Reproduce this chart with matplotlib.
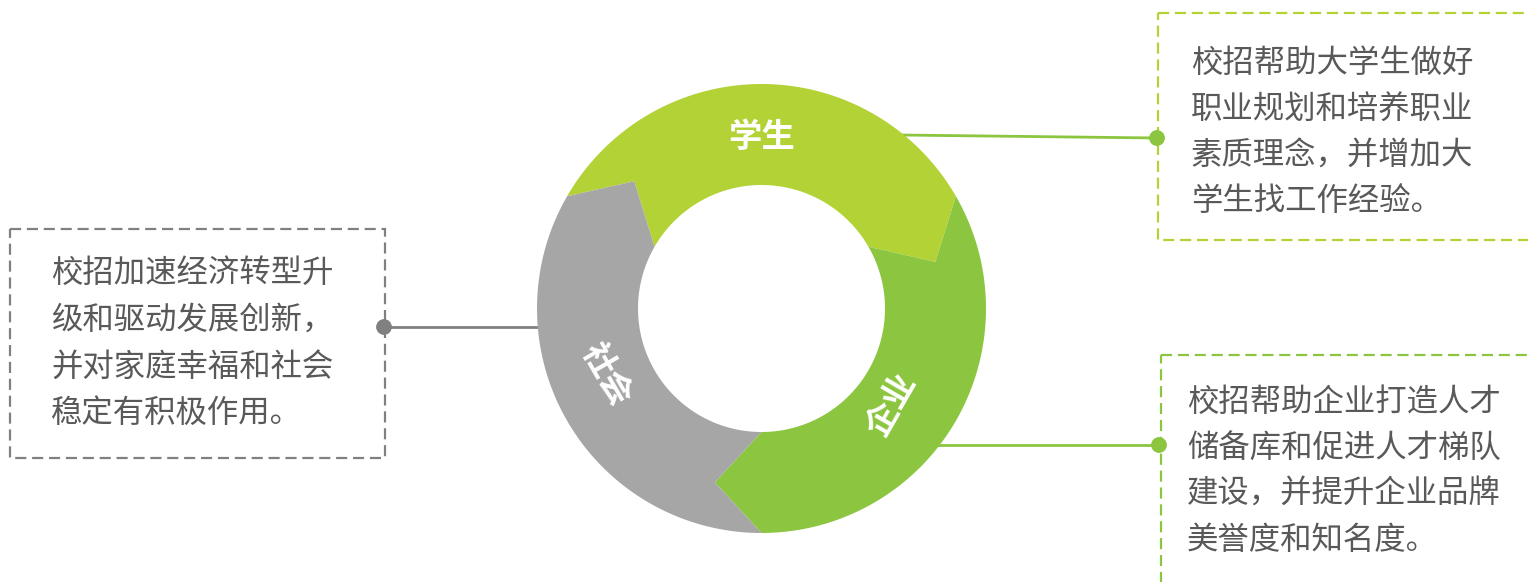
import numpy as np
import matplotlib
matplotlib.use("Agg")
import matplotlib.pyplot as plt
from matplotlib.patches import Polygon, Rectangle, Circle

plt.rcParams['font.family'] = ['Noto Sans CJK SC', 'DejaVu Sans']

# 环形三段：名称、起止角度（顺时针，数学角度）、颜色
segmentos = ["学生", "企业", "社会"]
angulo_inicio = [150, 30, -90]
angulo_fin = [30, -90, -210]
colores = ["#b2d235", "#8cc540", "#a6a6a6"]

# 标签位置（角度、半径）和旋转
etiqueta_angulo = [90, -36.5, 203]
etiqueta_radio = [171, 162, 169]
etiqueta_rot = [0, 60, -60]

# 说明文字
texto_estudiante = ["校招帮助大学生做好", "职业规划和培养职业", "素质理念，并增加大", "学生找工作经验。"]
texto_empresa = ["校招帮助企业打造人才", "储备库和促进人才梯队", "建设，并提升企业品牌", "美誉度和知名度。"]
texto_sociedad = ["校招加速经济转型升", "级和驱动发展创新，", "并对家庭幸福和社会", "稳定有积极作用。"]

CX, CY = 761.5, 308.5
R_EXT, R_INT, R_PUNTA = 224.5, 123.5, 180
PUNTA = 15
COLOR_TEXTO = "#595959"


def punto(ang, r):
    a = np.radians(ang)
    return CX + r * np.cos(a), CY - r * np.sin(a)


def forma_segmento(a0, a1):
    ext = [punto(a, R_EXT) for a in np.linspace(a0, a1, 80)]
    cabeza = [punto(a1 - PUNTA, R_PUNTA)]
    inte = [punto(a, R_INT) for a in np.linspace(a1, a0, 80)]
    cola = [punto(a0 - PUNTA, R_PUNTA)]
    return ext + cabeza + inte + cola


def caja(ax, x0, y0, x1, y1, color, lineas, tx, ty, paso):
    ax.add_patch(Rectangle((x0, y0), x1 - x0, y1 - y0, fill=False, edgecolor=color,
                           linewidth=1.6, linestyle=(0, (5, 2.6)), zorder=2))
    for i, linea in enumerate(lineas):
        ax.text(tx, ty + i * paso, linea, fontsize=22.6, color=COLOR_TEXTO,
                ha='left', va='center', zorder=3)


def conector(ax, x0, y0, x1, y1, color):
    ax.plot([x0, x1], [y0, y1], color=color, linewidth=2.0, zorder=0.5, solid_capstyle='butt')
    ax.add_patch(Circle((x1, y1), 7, color=color, zorder=4))


def main():
    fig = plt.figure(figsize=(15.28, 5.82), dpi=100)
    ax = fig.add_axes([0, 0, 1, 1])
    ax.set_xlim(0, 1528)
    ax.set_ylim(582, 0)
    ax.axis('off')

    for nombre, a0, a1, col, ea, er, rot in zip(segmentos, angulo_inicio, angulo_fin, colores,
                                                 etiqueta_angulo, etiqueta_radio, etiqueta_rot):
        ax.add_patch(Polygon(forma_segmento(a0, a1), closed=True, facecolor=col,
                             edgecolor='none', zorder=1))
        x, y = punto(ea, er)
        ax.text(x, y, nombre, fontsize=24, fontweight='bold', color='white',
                ha='center', va='center', rotation=rot, rotation_mode='anchor', zorder=3)

    # 学生
    conector(ax, 900, 135, 1157, 138, "#8cc540")
    caja(ax, 1158, 13, 1545, 240, "#b2d235", texto_estudiante, 1191, 63, 46)
    ax.add_patch(Circle((1157, 138), 7, color="#8cc540", zorder=4))

    # 企业
    conector(ax, 935, 445, 1159, 445, "#8cc540")
    caja(ax, 1161, 355, 1545, 600, "#8cc540", texto_empresa, 1187, 402, 46)
    ax.add_patch(Circle((1159, 445), 7, color="#8cc540", zorder=4))

    # 社会
    conector(ax, 545, 327, 384, 327, "#808080")
    caja(ax, 10, 229, 385, 458, "#808080", texto_sociedad, 51, 273, 46.7)
    ax.add_patch(Circle((384, 327), 7, color="#808080", zorder=4))

    fig.savefig("out.png", dpi=100)


if __name__ == "__main__":
    main()
